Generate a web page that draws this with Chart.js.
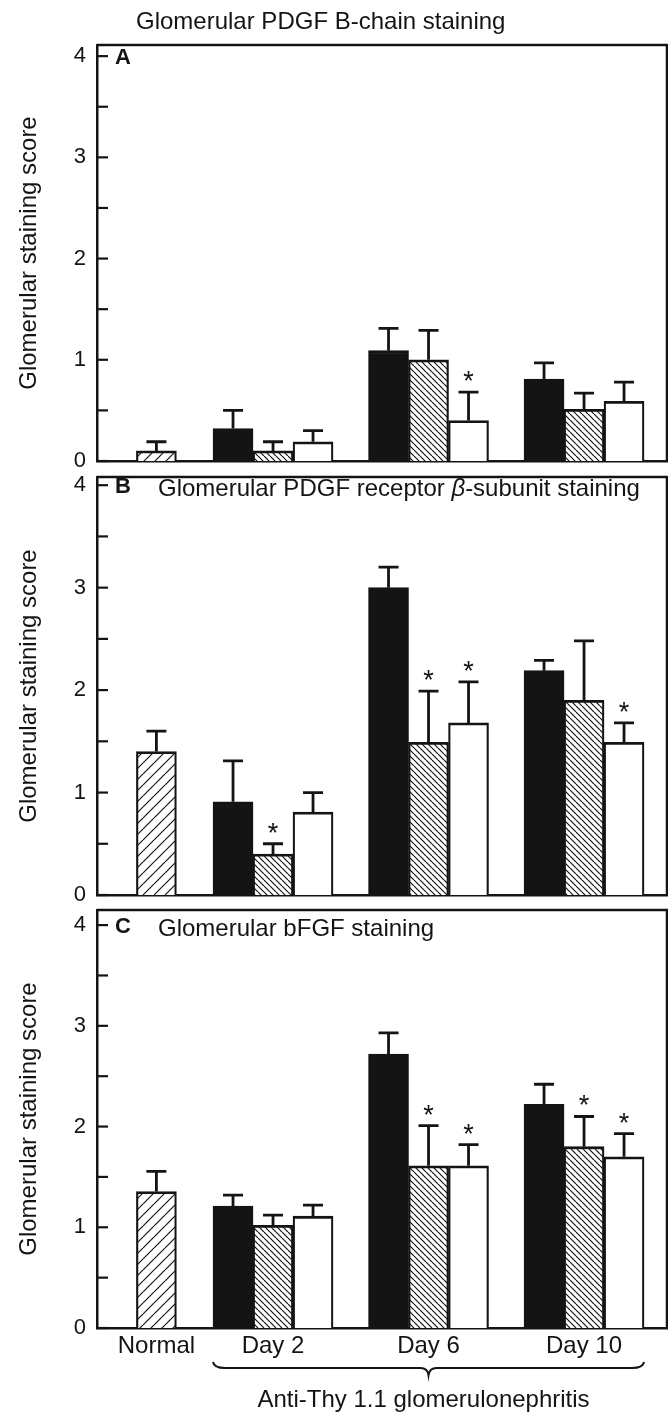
<!DOCTYPE html>
<html>
<head>
<meta charset="utf-8">
<script src="https://cdn.jsdelivr.net/npm/chart.js@4.4.1/dist/chart.umd.min.js"></script>
<style>
  html, body { margin: 0; padding: 0; background: #fff; }
  #wrap { position: relative; width: 668px; height: 1414px; }
  .panel { position: absolute; left: 0; width: 668px; }
</style>
</head>
<body>
<div id="wrap">
  <div class="panel" style="top:0;height:480px"><canvas id="panel-A"></canvas></div>
  <div class="panel" style="top:466px;height:448px"><canvas id="panel-B"></canvas></div>
  <div class="panel" style="top:896px;height:518px"><canvas id="panel-C"></canvas></div>
</div>
<script>
// Glomerular staining scores, three panels

var groups = ['Normal', 'Day 2', 'Day 6', 'Day 10'];
var groupPos = [0.25, 1, 2, 3];
var yTicks = [0, 1, 2, 3, 4];
var yMinor = [0, 0.5, 1, 1.5, 2, 2.5, 3, 3.5, 4];

// A: PDGF B-chain
var normalA = [0.10, null, null, null];
var blackA  = [null, 0.32, 1.09, 0.81];
var hatchA  = [null, 0.10, 1.00, 0.51];
var whiteA  = [null, 0.19, 0.40, 0.59];
var normalErrA = [0.09, 0, 0, 0];
var blackErrA  = [0, 0.18, 0.22, 0.16];
var hatchErrA  = [0, 0.09, 0.29, 0.16];
var whiteErrA  = [0, 0.11, 0.28, 0.19];
var hatchStarA = [0, 0, 0, 0];
var whiteStarA = [0, 0, 1, 0];

// B: PDGF receptor beta
var normalB = [1.40, null, null, null];
var blackB  = [null, 0.91, 3.00, 2.19];
var hatchB  = [null, 0.40, 1.49, 1.90];
var whiteB  = [null, 0.81, 1.68, 1.49];
var normalErrB = [0.20, 0, 0, 0];
var blackErrB  = [0, 0.40, 0.20, 0.10];
var hatchErrB  = [0, 0.10, 0.50, 0.58];
var whiteErrB  = [0, 0.19, 0.40, 0.19];
var hatchStarB = [0, 1, 1, 0];
var whiteStarB = [0, 0, 1, 1];

// C: bFGF
var normalC = [1.355, null, null, null];
var blackC  = [null, 1.21, 2.72, 2.22];
var hatchC  = [null, 1.02, 1.61, 1.80];
var whiteC  = [null, 1.11, 1.61, 1.70];
var normalErrC = [0.20, 0, 0, 0];
var blackErrC  = [0, 0.11, 0.21, 0.20];
var hatchErrC  = [0, 0.10, 0.40, 0.30];
var whiteErrC  = [0, 0.11, 0.21, 0.23];
var hatchStarC = [0, 0, 1, 1];
var whiteStarC = [0, 0, 1, 1];

var INK = '#141414';
var FONT = "'Liberation Sans', Arial, Helvetica, sans-serif";
var BAR_W = 40;

function hatch(dir, gap) {
  var c = document.createElement('canvas');
  c.width = gap; c.height = gap;
  var g = c.getContext('2d');
  g.fillStyle = '#fff';
  g.fillRect(0, 0, gap, gap);
  g.strokeStyle = INK;
  g.lineWidth = 1.2;
  for (var k = -1; k <= 1; k++) {
    g.beginPath();
    if (dir == '/') { g.moveTo(k * gap, gap); g.lineTo(k * gap + gap, 0); }
    else { g.moveTo(k * gap, 0); g.lineTo(k * gap + gap, gap); }
    g.stroke();
  }
  return g.createPattern(c, 'repeat');
}

function xy(vals) {
  return vals.map(function (v, i) { return { x: groupPos[i], y: v }; });
}

function bars(label, vals, errs, stars, fill) {
  return {
    label: label,
    data: xy(vals),
    errors: errs,
    stars: stars,
    backgroundColor: fill,
    borderColor: INK,
    borderWidth: { top: 2.8, left: 2.2, right: 2.2, bottom: 0 },
    borderSkipped: false,
    barThickness: BAR_W,
    skipNull: true
  };
}

// error bars (upper half only) and asterisks
var errorBars = {
  id: 'errorBars',
  afterDatasetsDraw: function (chart) {
    var ctx = chart.ctx, y = chart.scales.y;
    ctx.save();
    ctx.strokeStyle = INK;
    ctx.fillStyle = INK;
    ctx.lineWidth = 2.8;
    ctx.font = '27px ' + FONT;
    ctx.textAlign = 'center';
    ctx.textBaseline = 'alphabetic';
    chart.data.datasets.forEach(function (ds, i) {
      var meta = chart.getDatasetMeta(i);
      meta.data.forEach(function (bar, j) {
        var v = ds.data[j].y;
        if (v == null) return;
        var top = y.getPixelForValue(v + ds.errors[j]);
        ctx.beginPath();
        ctx.moveTo(bar.x, bar.y);
        ctx.lineTo(bar.x, top);
        ctx.moveTo(bar.x - 10, top);
        ctx.lineTo(bar.x + 10, top);
        ctx.stroke();
        if (ds.stars[j]) ctx.fillText('*', bar.x, top - 2);
      });
    });
    ctx.restore();
  }
};

// frame, inward ticks, panel letters and titles
var frame = {
  id: 'frame',
  afterDraw: function (chart) {
    var ctx = chart.ctx, a = chart.chartArea, y = chart.scales.y, x = chart.scales.x;
    var p = chart.config.options.panel;
    ctx.save();
    ctx.strokeStyle = INK;
    ctx.fillStyle = INK;
    ctx.lineWidth = 2.5;
    ctx.beginPath();
    ctx.moveTo(a.left, a.top);
    ctx.lineTo(a.right - 1, a.top);
    ctx.lineTo(a.right - 1, a.bottom);
    ctx.stroke();
    ctx.lineWidth = 2.2;
    yMinor.forEach(function (v) {
      var py = y.getPixelForValue(v);
      ctx.beginPath();
      ctx.moveTo(a.left, py);
      ctx.lineTo(a.left + 11, py);
      ctx.stroke();
    });

    var y4 = y.getPixelForValue(4);
    ctx.textAlign = 'left';
    ctx.textBaseline = 'alphabetic';
    ctx.font = 'bold 22px ' + FONT;
    ctx.fillText(p.letter, a.left + 18, y4 + 8);

    var tx = p.titleInside ? a.left + 61 : a.left + 39;
    var ty = p.titleInside ? y4 + 11 : a.top - 16;
    p.title.forEach(function (part) {
      ctx.font = (part[1] ? 'italic ' : '') + '24px ' + FONT;
      ctx.fillText(part[0], tx, ty);
      tx += ctx.measureText(part[0]).width;
    });

    if (p.footer) {
      var x0 = x.getPixelForValue(groupPos[1]) - 1.5 * BAR_W;
      var x1 = x.getPixelForValue(groupPos[3]) + 1.5 * BAR_W;
      var xm = x.getPixelForValue(groupPos[2]);
      var b0 = a.bottom + 34;
      ctx.lineWidth = 2;
      ctx.beginPath();
      ctx.moveTo(x0, b0);
      ctx.quadraticCurveTo(x0 + 1, b0 + 6, x0 + 12, b0 + 6);
      ctx.lineTo(xm - 8, b0 + 6);
      ctx.quadraticCurveTo(xm - 1, b0 + 6, xm, b0 + 13);
      ctx.quadraticCurveTo(xm + 1, b0 + 6, xm + 8, b0 + 6);
      ctx.lineTo(x1 - 12, b0 + 6);
      ctx.quadraticCurveTo(x1 - 1, b0 + 6, x1, b0);
      ctx.stroke();
      ctx.font = '24px ' + FONT;
      ctx.textAlign = 'center';
      ctx.fillText(p.footer, xm - 5, a.bottom + 79);
    }
    ctx.restore();
  }
};

function settings(set) {
  return {
    type: 'bar',
    data: {
      datasets: [
        bars('Normal', set.normal, set.normalErr, [0, 0, 0, 0], hatch('/', 11)),
        bars('Untreated', set.black, set.blackErr, [0, 0, 0, 0], INK),
        bars('Treated 1', set.hatch, set.hatchErr, set.hatchStar, hatch('\\', 6)),
        bars('Treated 2', set.white, set.whiteErr, set.whiteStar, '#ffffff')
      ]
    },
    options: {
      responsive: true,
      maintainAspectRatio: false,
      animation: false,
      devicePixelRatio: 1,
      events: [],
      panel: set,
      layout: { padding: { top: set.top, left: 0, right: 0, bottom: 0 } },
      plugins: { legend: { display: false }, title: { display: false }, tooltip: { enabled: false } },
      scales: {
        x: {
          type: 'linear',
          min: -0.132,
          max: 3.54,
          offset: false,
          grid: { display: false, drawTicks: false },
          border: { display: true, color: INK, width: 2.5 },
          afterBuildTicks: function (s) { s.ticks = groupPos.map(function (v) { return { value: v }; }); },
          afterFit: function (s) { s.height = set.canvasH - set.bottom; s.paddingLeft = 0; s.paddingRight = 0; },
          ticks: {
            display: !!set.footer,
            autoSkip: false,
            maxRotation: 0,
            padding: 4,
            color: INK,
            font: { family: FONT, size: 24 },
            callback: function (v, i) { return groups[i]; }
          }
        },
        y: {
          min: 0,
          max: set.yMax,
          grid: { display: false, drawTicks: false },
          border: { display: true, color: INK, width: 2.5 },
          afterBuildTicks: function (s) { s.ticks = yTicks.map(function (v) { return { value: v }; }); },
          afterFit: function (s) { s.width = 97; s.paddingTop = 0; s.paddingBottom = 0; },
          ticks: { padding: 11, color: INK, font: { family: FONT, size: 22 } },
          title: {
            display: true,
            text: 'Glomerular staining score',
            color: INK,
            padding: { top: 15, bottom: 0 },
            font: { family: FONT, size: 24 }
          }
        }
      }
    },
    plugins: [errorBars, frame]
  };
}

var panels = [
  { id: 'panel-A', canvasH: 480, top: 45, bottom: 461, yMax: 4.11, letter: 'A', titleInside: false,
    title: [['Glomerular PDGF B-chain staining', false]],
    normal: normalA, black: blackA, hatch: hatchA, white: whiteA,
    normalErr: normalErrA, blackErr: blackErrA, hatchErr: hatchErrA, whiteErr: whiteErrA,
    hatchStar: hatchStarA, whiteStar: whiteStarA },
  { id: 'panel-B', canvasH: 448, top: 11, bottom: 429, yMax: 4.08, letter: 'B', titleInside: true,
    title: [['Glomerular PDGF receptor ', false], ['\u03b2', true], ['-subunit staining', false]],
    normal: normalB, black: blackB, hatch: hatchB, white: whiteB,
    normalErr: normalErrB, blackErr: blackErrB, hatchErr: hatchErrB, whiteErr: whiteErrB,
    hatchStar: hatchStarB, whiteStar: whiteStarB },
  { id: 'panel-C', canvasH: 518, top: 14, bottom: 432, yMax: 4.15, letter: 'C', titleInside: true,
    title: [['Glomerular bFGF staining', false]],
    footer: 'Anti-Thy 1.1 glomerulonephritis',
    normal: normalC, black: blackC, hatch: hatchC, white: whiteC,
    normalErr: normalErrC, blackErr: blackErrC, hatchErr: hatchErrC, whiteErr: whiteErrC,
    hatchStar: hatchStarC, whiteStar: whiteStarC }
];

panels.forEach(function (p) { new Chart(document.getElementById(p.id), settings(p)); });
</script>
</body>
</html>
